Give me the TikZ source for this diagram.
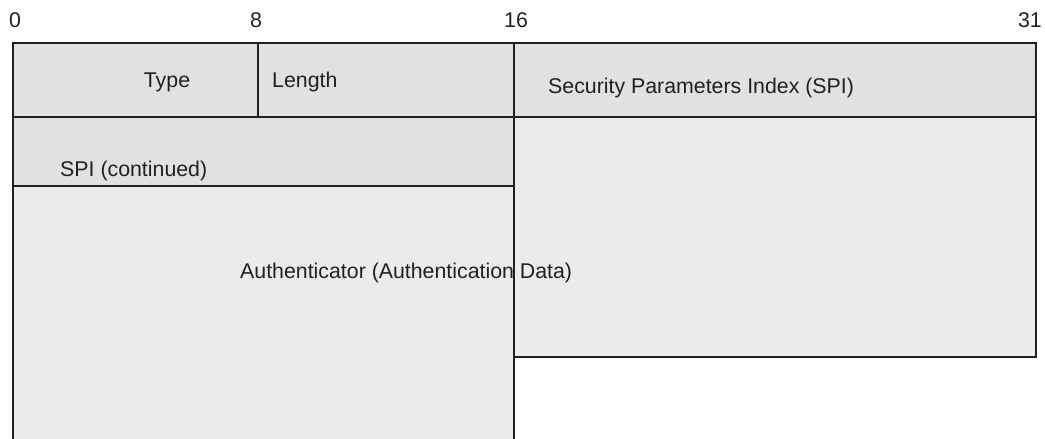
\documentclass[tikz,border=0pt]{standalone}
\usepackage{fontspec}
\setmainfont{Liberation Sans}
\definecolor{hdrgray}{HTML}{E0E1E3}
\definecolor{bodygray}{HTML}{EBEBED}
\definecolor{inkgray}{HTML}{231F20}

\begin{document}
\begin{tikzpicture}[x=0.03cm,y=-0.03cm,
  field/.style={draw=inkgray,line width=2.3pt},
  lbl/.style={font=\fontsize{18.2}{20}\selectfont,text=inkgray,inner sep=0pt}]
  \useasboundingbox (0,0) rectangle (1045,438);
  \clip (0,0) rectangle (1045,438);
  % field backgrounds
  \fill[hdrgray] (13,43) rectangle (1036,117);
  \fill[hdrgray] (13,117) rectangle (514,186);
  \fill[bodygray] (514,117) rectangle (1036,357);
  \fill[bodygray] (13,186) rectangle (514,445);
  % field borders
  \draw[field] (13,445) -- (13,43) -- (1036,43) -- (1036,357) -- (514,357);
  \draw[field] (13,117) -- (1036,117);
  \draw[field] (13,186) -- (514,186);
  \draw[field] (258,43) -- (258,117);
  \draw[field] (514,43) -- (514,445);
  % bit numbers
  \node[lbl,anchor=base] (bit0) at (15,27) {0};
  \node[lbl,anchor=base] (bit8) at (256,27) {8};
  \node[lbl,anchor=base] (bit16) at (516,27) {16};
  \node[lbl,anchor=base east] (bit31) at (1042,27) {31};
  % field labels
  \node[lbl,anchor=base] (type) at (167,87) {Type};
  \node[lbl,anchor=base west] (len) at (272,87) {Length};
  \node[lbl,anchor=base west] (spi) at (548,93) {Security Parameters Index (SPI)};
  \node[lbl,anchor=base west] (spicont) at (60,176) {SPI (continued)};
  \node[lbl,anchor=base west] (auth) at (240,278) {Authenticator (Authentication Data)};
\end{tikzpicture}
\end{document}
